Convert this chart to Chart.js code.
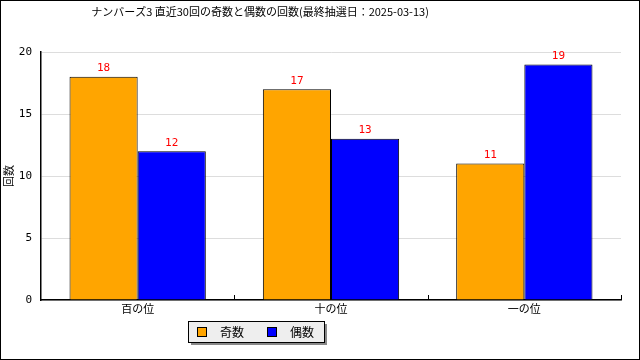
<!DOCTYPE html>
<html><head><meta charset="utf-8">
<script src="https://cdn.jsdelivr.net/npm/chart.js@4/dist/chart.umd.min.js"></script>
<style>html,body{margin:0;padding:0;background:#fff}#wrap{width:640px;height:360px}</style>
</head><body><div id="wrap"><canvas id="c" width="640" height="360"></canvas></div>
<script>
const titleText = 'ナンバーズ3 直近30回の奇数と偶数の回数(最終抽選日：2025-03-13)';
const categories = ['百の位', '十の位', '一の位'];
const seriesNames = ['奇数', '偶数'];
const oddCounts = [18, 17, 11];
const evenCounts = [12, 13, 19];
const yTicks = [0, 5, 10, 15, 20];
const seriesColors = ['#FFA500', '#0000FF'];
const jp = "'Noto Sans CJK JP', 'DejaVu Sans', sans-serif";

const framePlugin = {
  id: 'frame',
  beforeDraw(chart) {
    const ctx = chart.ctx;
    ctx.save();
    ctx.fillStyle = '#fff';
    ctx.fillRect(0, 0, chart.width, chart.height);
    ctx.restore();
  },
  afterDraw(chart) {
    const ctx = chart.ctx;
    const x = chart.scales.x, y = chart.scales.y;
    ctx.save();
    // title
    ctx.fillStyle = '#000';
    ctx.font = '11px ' + jp;
    ctx.textAlign = 'center'; ctx.textBaseline = 'middle';
    ctx.fillText(titleText, 260, 12);
    // inward ticks on the category axis at boundaries
    ctx.strokeStyle = '#000'; ctx.lineWidth = 1;
    const n = categories.length;
    for (let i = 1; i <= n; i++) {
      const px = Math.round(x.left + i * (x.right - x.left) / n) + 0.5;
      ctx.beginPath(); ctx.moveTo(px, y.bottom); ctx.lineTo(px, y.bottom - 5); ctx.stroke();
    }
    // value labels
    ctx.fillStyle = '#ff0000';
    ctx.font = "11px 'DejaVu Sans Mono', monospace";
    ctx.textAlign = 'center'; ctx.textBaseline = 'bottom';
    chart.data.datasets.forEach((ds, di) => {
      chart.getDatasetMeta(di).data.forEach((bar, i) => {
        ctx.fillText(String(ds.data[i]), bar.x, bar.y - 3);
      });
    });
    // legend box
    const bx = 188, by = 321, bw = 136, bh = 21;
    ctx.fillStyle = '#888';
    ctx.fillRect(bx + 3, by + 3, bw, bh);
    ctx.fillStyle = '#eeeeee';
    ctx.fillRect(bx, by, bw, bh);
    ctx.strokeStyle = '#000';
    ctx.strokeRect(bx + 0.5, by + 0.5, bw, bh);
    const itemX = [197, 267];
    ctx.font = '12px ' + jp;
    ctx.textAlign = 'left'; ctx.textBaseline = 'middle';
    chart.data.datasets.forEach((ds, di) => {
      const sx = itemX[di];
      ctx.fillStyle = ds.backgroundColor;
      ctx.fillRect(sx, by + 6, 10, 10);
      ctx.strokeRect(sx + 0.5, by + 6.5, 9, 9);
      ctx.fillStyle = '#000';
      ctx.fillText(ds.label, sx + 23, by + 11.5);
    });
    // outer frame
    ctx.strokeStyle = '#000'; ctx.lineWidth = 1;
    ctx.strokeRect(0.5, 0.5, chart.width - 1, chart.height - 1);
    ctx.restore();
  }
};

new Chart(document.getElementById('c'), {
  type: 'bar',
  data: {
    labels: categories,
    datasets: [
      { label: seriesNames[0], data: oddCounts, backgroundColor: seriesColors[0], borderColor: '#000', borderWidth: 1 },
      { label: seriesNames[1], data: evenCounts, backgroundColor: seriesColors[1], borderColor: '#000', borderWidth: 1 }
    ]
  },
  options: {
    responsive: false,
    animation: false,
    devicePixelRatio: 1,
    layout: { padding: { top: 52, right: 19, bottom: 40, left: 0 } },
    plugins: {
      legend: { display: false },
      tooltip: { enabled: false },
      title: { display: false }
    },
    datasets: { bar: { categoryPercentage: 0.705, barPercentage: 1.0 } },
    scales: {
      x: {
        grid: { display: false, drawTicks: false },
        border: { color: '#000', width: 1.5 },
        ticks: { color: '#000', font: { family: jp, size: 11 }, padding: 2 },
        afterFit(s) { s.height = 20; }
      },
      y: {
        min: 0, max: 20,
        afterBuildTicks(s) { s.ticks = yTicks.map(v => ({ value: v })); },
        grid: { color: '#dddddd', drawTicks: false },
        border: { color: '#000', width: 1.5 },
        ticks: { color: '#000', font: { family: "'DejaVu Sans Mono', monospace", size: 11 }, padding: 9 },
        title: { display: true, text: '回数', color: '#000', font: { family: jp, size: 11 }, padding: { top: 2, bottom: 0 } },
        afterFit(s) { s.width = 41; }
      }
    }
  },
  plugins: [framePlugin]
});
</script></body></html>
